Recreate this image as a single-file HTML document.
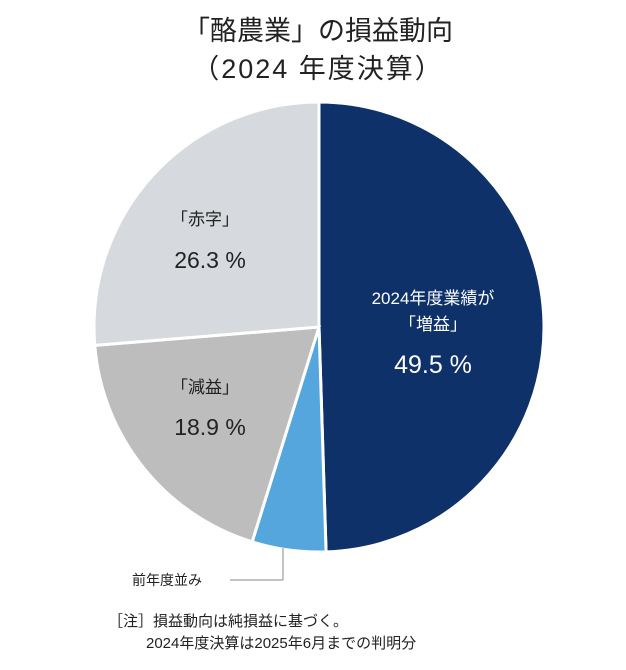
<!DOCTYPE html>
<html><head><meta charset="utf-8"><style>
body{margin:0;background:#fff;}
svg text{font-family:"Liberation Sans","Noto Sans CJK JP",sans-serif;}
</style></head><body>
<svg id="chart" width="626" height="665" viewBox="0 0 626 665" xmlns="http://www.w3.org/2000/svg">
<text x="318" y="40" text-anchor="middle" font-size="27" fill="#222">「酪農業」の損益動向</text>
<text x="318" y="78" text-anchor="middle" font-size="27" fill="#222" letter-spacing="2">（2024 年度決算）</text>
<g id="slices"></g>
<g id="labels"></g>
<line x1="283" y1="548" x2="283" y2="580" stroke="#888" stroke-width="1"/>
<line x1="283" y1="580" x2="230" y2="580" stroke="#888" stroke-width="1"/>
<text x="132" y="585" font-size="14" fill="#222">前年度並み</text>
<text x="108" y="626" font-size="15" fill="#222">［注］損益動向は純損益に基づく。</text>
<text x="146" y="648" font-size="15" fill="#222">2024年度決算は2025年6月までの判明分</text>
</svg>
<script>
const categories=["増益","前年度並み","減益","赤字"];
const values=[49.5,5.3,18.9,26.3];
const colors=["#0d3168","#55a6dc","#bdbdbd","#d6dade"];
const cx=319,cy=327,r=225;
const ns="http://www.w3.org/2000/svg";
const g=document.getElementById("slices");
const total=values.reduce((a,b)=>a+b,0);
let a0=-Math.PI/2;
const pt=(a,rr)=>[cx+rr*Math.cos(a),cy+rr*Math.sin(a)];
values.forEach((v,i)=>{
  const a1=a0+v/total*2*Math.PI;
  const [x0,y0]=pt(a0,r),[x1,y1]=pt(a1,r);
  const p=document.createElementNS(ns,"path");
  p.setAttribute("d",`M${cx},${cy}L${x0},${y0}A${r},${r} 0 ${a1-a0>Math.PI?1:0} 1 ${x1},${y1}Z`);
  p.setAttribute("fill",colors[i]);
  p.setAttribute("stroke","#fff");
  p.setAttribute("stroke-width","3");
  
  
  g.appendChild(p);
  a0=a1;
});
const L=document.getElementById("labels");
function t(x,y,s,size,fill,name){
  const e=document.createElementNS(ns,"text");
  e.setAttribute("x",x);e.setAttribute("y",y);e.setAttribute("font-size",size);
  e.setAttribute("fill",fill);e.setAttribute("text-anchor","middle");e.textContent=s;
  
  
  L.appendChild(e);
}
t(433,304,"2024年度業績が","17","#fff","label-increase-title");
t(433,330,"「"+categories[0]+"」","17","#fff","label-increase-name");
t(433,373,values[0].toFixed(1)+" %","25","#fff","label-increase-value");
t(205,225,"「"+categories[3]+"」","17","#222","label-deficit-name");
t(210,268,values[3].toFixed(1)+" %","23","#222","label-deficit-value");
t(205,393,"「"+categories[2]+"」","17","#222","label-decrease-name");
t(210,435,values[2].toFixed(1)+" %","23","#222","label-decrease-value");
</script>
</body></html>
